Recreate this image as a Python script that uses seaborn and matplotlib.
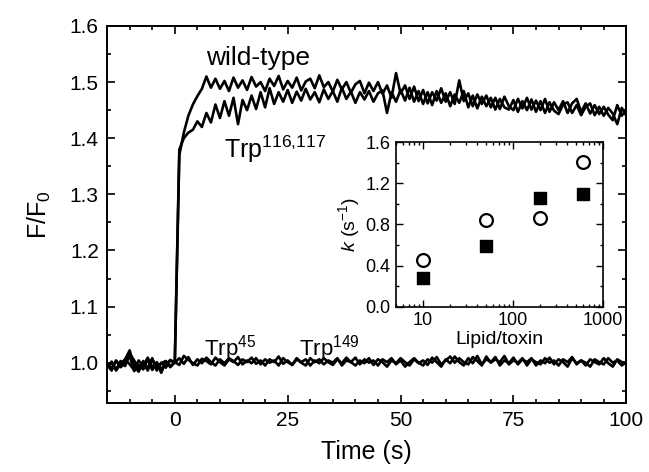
import numpy as np
import pandas as pd
import seaborn as sns
import matplotlib
matplotlib.use("Agg")
import matplotlib.pyplot as plt
from matplotlib.ticker import MultipleLocator, NullFormatter, LogLocator

# ---------------- data ----------------
time_s = list(range(-15, 101))

wild_type = [
    0.993, 1.000, 0.988, 1.003, 0.994, 1.016, 1.004, 0.990, 1.000, 0.986,
    1.006, 0.990, 0.999, 1.003, 0.994, 1.000, 1.370, 1.410, 1.440, 1.460,
    1.475, 1.488, 1.510, 1.490, 1.506, 1.488, 1.502, 1.484, 1.508, 1.490,
    1.503, 1.486, 1.509, 1.492, 1.500, 1.484, 1.506, 1.493, 1.511, 1.487,
    1.502, 1.490, 1.508, 1.485, 1.501, 1.506, 1.489, 1.512, 1.491, 1.500,
    1.483, 1.504, 1.487, 1.500, 1.481, 1.496, 1.502, 1.480, 1.499, 1.484,
    1.500, 1.479, 1.494, 1.472, 1.516, 1.480, 1.494, 1.470, 1.492, 1.466,
    1.486, 1.462, 1.482, 1.467, 1.489, 1.465, 1.482, 1.461, 1.503, 1.466,
    1.480, 1.457, 1.478, 1.461, 1.476, 1.455, 1.472, 1.452, 1.474, 1.457,
    1.450, 1.470, 1.453, 1.472, 1.451, 1.467, 1.450, 1.470, 1.447, 1.464,
    1.450, 1.466, 1.445, 1.462, 1.470, 1.447, 1.462, 1.444, 1.459, 1.443,
    1.456, 1.442, 1.432, 1.459, 1.440, 1.452,
]

trp_116_117 = [
    0.999, 0.990, 1.003, 0.993, 1.006, 0.997, 0.987, 1.004, 0.994, 1.009,
    0.992, 1.001, 0.989, 0.996, 1.005, 1.000, 1.380, 1.400, 1.410, 1.415,
    1.430, 1.420, 1.445, 1.428, 1.460, 1.436, 1.466, 1.440, 1.472, 1.425,
    1.468, 1.450, 1.476, 1.452, 1.482, 1.455, 1.489, 1.461, 1.482, 1.465,
    1.486, 1.463, 1.483, 1.467, 1.488, 1.469, 1.482, 1.464, 1.487, 1.470,
    1.484, 1.465, 1.490, 1.470, 1.483, 1.463, 1.482, 1.469, 1.484, 1.465,
    1.480, 1.485, 1.445, 1.482, 1.465, 1.486, 1.467, 1.490, 1.465, 1.484,
    1.461, 1.482, 1.459, 1.484, 1.463, 1.480, 1.457, 1.478, 1.463, 1.484,
    1.455, 1.476, 1.453, 1.474, 1.457, 1.472, 1.451, 1.470, 1.455, 1.451,
    1.468, 1.447, 1.466, 1.450, 1.469, 1.447, 1.466, 1.445, 1.464, 1.449,
    1.443, 1.460, 1.464, 1.445, 1.459, 1.441, 1.456, 1.462, 1.441, 1.456,
    1.440, 1.454, 1.444, 1.425, 1.454, 1.440,
]

trp_45 = [
    0.990, 1.002, 0.986, 0.998, 1.006, 1.022, 0.994, 0.984, 1.003, 0.990,
    1.008, 0.986, 1.000, 0.991, 1.004, 1.000, 1.008, 0.998, 1.010, 0.996,
    1.006, 0.999, 1.009, 1.001, 0.995, 1.006, 0.999, 1.008, 1.003, 0.996,
    1.006, 1.001, 1.009, 0.998, 1.004, 0.995, 1.006, 1.001, 1.011, 0.998,
    1.004, 0.996, 1.008, 1.001, 1.006, 0.995, 1.004, 0.999, 1.008, 1.001,
    0.996, 1.006, 0.999, 1.009, 1.001, 0.995, 1.004, 0.999, 1.008, 0.996,
    1.006, 1.001, 0.993, 1.004, 0.999, 1.008, 1.001, 0.995, 1.006, 0.999,
    1.004, 0.996, 1.009, 1.001, 0.993, 1.006, 0.999, 1.011, 1.001, 0.995,
    1.008, 0.999, 1.012, 0.997, 1.006, 1.001, 1.010, 0.995, 1.004, 0.999,
    1.009, 0.997, 1.006, 1.001, 1.008, 0.995, 1.004, 0.999, 1.009, 0.997,
    1.006, 1.001, 0.993, 1.008, 0.999, 1.004, 0.995, 1.006, 1.001, 0.997,
    1.008, 0.999, 0.993, 1.006, 1.001, 1.000,
]

trp_149 = [
    0.996, 0.986, 1.004, 0.992, 0.999, 1.012, 0.985, 0.996, 0.988, 1.006,
    0.987, 0.998, 0.982, 1.002, 0.992, 1.001, 0.996, 1.012, 1.005, 0.999,
    0.995, 1.007, 1.003, 0.997, 1.009, 1.001, 0.995, 1.006, 1.001, 1.010,
    0.997, 1.004, 0.999, 1.008, 0.997, 1.006, 1.000, 1.004, 0.995, 1.008,
    1.001, 0.996, 1.006, 1.000, 0.995, 1.008, 1.001, 1.006, 0.997, 1.004,
    1.000, 1.008, 0.995, 1.004, 1.001, 1.009, 0.997, 1.006, 1.000, 1.004,
    0.995, 1.006, 1.001, 1.008, 0.997, 1.004, 0.993, 1.001, 1.008, 1.000,
    0.995, 1.006, 1.000, 1.010, 0.997, 1.004, 1.011, 1.000, 1.008, 1.001,
    0.997, 1.010, 1.003, 0.995, 1.011, 1.000, 1.006, 1.001, 1.012, 0.997,
    1.004, 1.000, 1.008, 0.995, 1.006, 1.001, 0.997, 1.008, 1.000, 1.004,
    0.995, 1.006, 1.001, 1.010, 0.997, 1.004, 1.000, 0.993, 1.006, 1.001,
    0.997, 1.008, 1.000, 1.004, 0.995, 1.001,
]

# inset data
lipid_toxin = [10, 50, 200, 600]
k_open = [0.45, 0.84, 0.86, 1.41]
k_filled = [0.28, 0.59, 1.06, 1.10]

# ---------------- style ----------------
sns.set_style("ticks")
plt.rcParams["font.family"] = ["Liberation Sans", "DejaVu Sans"]
plt.rcParams["mathtext.fontset"] = "custom"
plt.rcParams["mathtext.rm"] = "Liberation Sans"
plt.rcParams["mathtext.it"] = "Liberation Sans:italic"
plt.rcParams["axes.linewidth"] = 1.4
for key in ["text.color", "axes.labelcolor", "xtick.color", "ytick.color",
            "axes.edgecolor"]:
    plt.rcParams[key] = "black"

fig = plt.figure(figsize=(6.49, 4.72), dpi=100)
ax = fig.add_axes([0.165, 0.146, 0.800, 0.799])

frames = []
for name, vals in [("wild-type", wild_type), ("Trp116,117", trp_116_117),
                   ("Trp45", trp_45), ("Trp149", trp_149)]:
    frames.append(pd.DataFrame({"Time": time_s, "F": vals, "series": name}))
df = pd.concat(frames, ignore_index=True)

sns.lineplot(data=df, x="Time", y="F", units="series", estimator=None,
             color="black", linewidth=1.9, ax=ax, legend=False)

ax.set_xlim(-15, 100)
ax.set_ylim(0.928, 1.6)
ax.set_xticks([0, 25, 50, 75, 100])
ax.set_yticks([1.0, 1.1, 1.2, 1.3, 1.4, 1.5, 1.6])
ax.set_yticklabels(["1.0", "1.1", "1.2", "1.3", "1.4", "1.5", "1.6"])
ax.xaxis.set_minor_locator(MultipleLocator(5))
ax.yaxis.set_minor_locator(MultipleLocator(0.05))
ax.tick_params(which="both", direction="in", top=True, right=True,
               labelsize=15, width=1.2)
ax.tick_params(which="major", length=6, pad=6)
ax.tick_params(which="minor", length=3)
for s in ax.spines.values():
    s.set_visible(True)
    s.set_linewidth(1.4)
ax.set_xlabel("Time (s)", fontsize=18, labelpad=7)
ax.set_ylabel("F/F$_0$", fontsize=18, labelpad=12)

ax.text(18.5, 1.543, "wild-type", fontsize=19, ha="center", va="center")
ax.text(11, 1.365, r"Trp$^{116{,}117}$", fontsize=18, ha="left", va="baseline")
ax.text(6.5, 1.012, r"Trp$^{45}$", fontsize=16, ha="left", va="baseline")
ax.text(27.5, 1.012, r"Trp$^{149}$", fontsize=16, ha="left", va="baseline")

# ---------------- inset ----------------
axi = fig.add_axes([0.610, 0.350, 0.319, 0.349])
idf = pd.DataFrame({"x": lipid_toxin * 2, "k": k_open + k_filled,
                    "kind": ["open"] * 4 + ["filled"] * 4})
sns.scatterplot(data=idf[idf.kind == "open"], x="x", y="k", marker="o",
                s=85, facecolor="white", edgecolor="black", linewidth=1.6,
                ax=axi, legend=False)
sns.scatterplot(data=idf[idf.kind == "filled"], x="x", y="k", marker="s",
                s=85, color="black", edgecolor="black", linewidth=1.0,
                ax=axi, legend=False)
axi.set_xscale("log")
axi.set_xlim(5, 1000)
axi.set_ylim(0, 1.6)
axi.set_xticks([10, 100, 1000])
axi.set_xticklabels(["10", "100", "1000"])
axi.xaxis.set_minor_locator(LogLocator(base=10, subs=np.arange(2, 10)))
axi.xaxis.set_minor_formatter(NullFormatter())
axi.set_yticks([0.0, 0.4, 0.8, 1.2, 1.6])
axi.set_yticklabels(["0.0", "0.4", "0.8", "1.2", "1.6"])
axi.yaxis.set_minor_locator(MultipleLocator(0.2))
axi.tick_params(which="both", direction="in", top=True, right=True,
                labelsize=13, width=1.0)
axi.tick_params(which="major", length=5, pad=4)
axi.tick_params(which="minor", length=2.5)
for s in axi.spines.values():
    s.set_visible(True)
    s.set_linewidth(1.2)
axi.set_xlabel("Lipid/toxin", fontsize=14, labelpad=1)
axi.set_ylabel(r"$\mathit{k}$ (s$^{-1}$)", fontsize=14, labelpad=2)

fig.savefig("out.png", dpi=100)
